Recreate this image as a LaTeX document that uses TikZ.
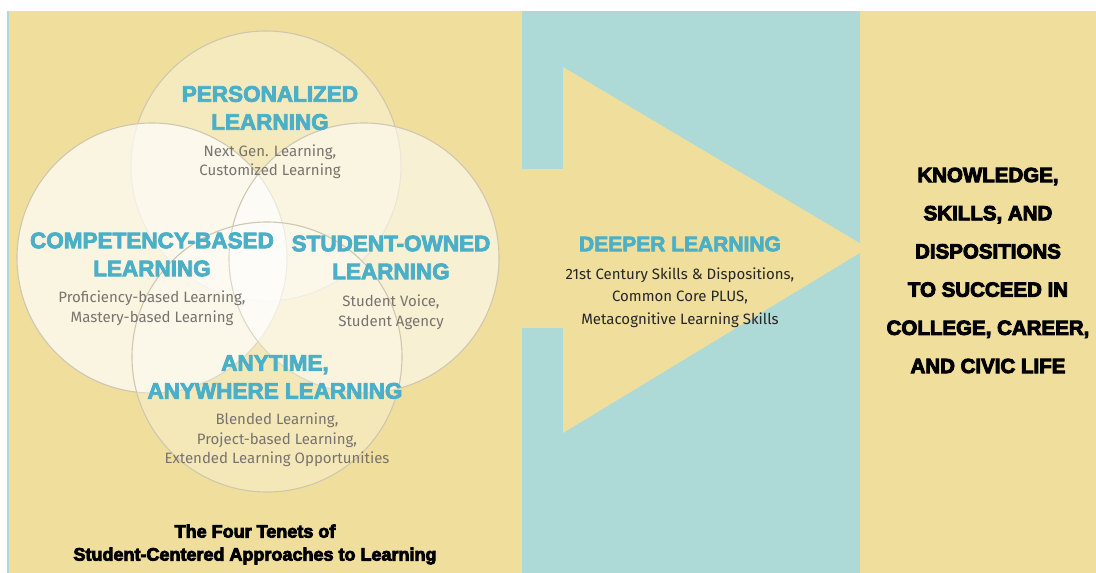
\documentclass[tikz,border=0pt]{standalone}
\usepackage{fontspec}
\setmainfont{Fira Sans}
\setsansfont{Fira Sans}
\newfontfamily\hvy{Liberation Sans}[UprightFont={* Bold},FakeBold=3.5]
\newfontfamily\hvyb{Liberation Sans}[UprightFont={* Bold},FakeBold=4.5]
\definecolor{bgyellow}{HTML}{F0DF9C}
\definecolor{bgteal}{HTML}{ADD9D6}
\definecolor{tblue}{HTML}{4AAFC7}
\definecolor{tgray}{HTML}{78736E}
\definecolor{cedge}{HTML}{CFC7B0}
\begin{document}
\begin{tikzpicture}[x=1pt,y=-1pt,
  venn/.style={circle,minimum size=270pt,inner sep=0pt,draw=cedge,line width=1.1pt,fill=white},
  ttl/.style={inner sep=0pt,align=center,text=tblue,font=\hvy\fontsize{22.5}{28}\selectfont},
  sub/.style={inner sep=0pt,align=center,text=tgray,font=\fontsize{15}{19.5}\selectfont},
  captxt/.style={inner sep=0pt,align=center,text=black,font=\hvyb\fontsize{18}{23}\selectfont},
  outc/.style={inner sep=0pt,align=center,text=black,font=\hvyb\fontsize{20.5}{38.2}\selectfont},
  dsub/.style={inner sep=0pt,align=center,text=black!85,font=\fontsize{15}{22.5}\selectfont}]
\useasboundingbox (0,0) rectangle (1096,573);
\fill[white] (0,0) rectangle (1096,573);
\fill[bgteal] (7,11) rectangle (8.5,573);
\fill[bgyellow] (8.5,11) rectangle (522,573);
\fill[bgteal] (522,11) rectangle (860,573);
\fill[bgyellow] (522,169) -- (563,169) -- (563,67) -- (868,248) -- (563,433) -- (563,328) -- (522,328) -- cycle;
\fill[bgyellow] (860,11) rectangle (1096,573);
% Venn circles
\node[venn,fill opacity=0.35] (pc) at (266,166) {};
\node[venn,fill opacity=0.7] (cc) at (152,258) {};
\node[venn,fill opacity=0.55] (sc) at (364,258) {};
\node[venn,fill opacity=0.3] (ac) at (267,357) {};
% Texts
\node[ttl] (pt) at (270,108) {PERSONALIZED\\LEARNING};
\node[sub] (ps) at (270,161.5) {Next Gen. Learning,\\Customized Learning};
\node[ttl] (ct) at (152,254.5) {COMPETENCY-BASED\\LEARNING};
\node[sub] (cs) at (152,308) {Proficiency-based Learning,\\Mastery-based Learning};
\node[ttl] (st) at (391,257.5) {STUDENT-OWNED\\LEARNING};
\node[sub] (ss) at (391,312) {Student Voice,\\Student Agency};
\node[ttl] (at) at (275,377) {ANYTIME,\\ANYWHERE LEARNING};
\node[sub] (as) at (277,440) {Blended Learning,\\Project-based Learning,\\Extended Learning Opportunities};
\node[captxt] (fc) at (255,544.5) {The Four Tenets of\\Student-Centered Approaches to Learning};
\node[ttl,font=\hvy\fontsize{21}{24}\selectfont] (dt) at (680,244) {DEEPER LEARNING};
\node[dsub] (ds) at (680,297.5) {21st Century Skills \& Dispositions,\\Common Core PLUS,\\Metacognitive Learning Skills};
\node[outc] (oc) at (988,270.5) {KNOWLEDGE,\\SKILLS, AND\\DISPOSITIONS\\TO SUCCEED IN\\COLLEGE, CAREER,\\AND CIVIC LIFE};
\end{tikzpicture}
\end{document}
